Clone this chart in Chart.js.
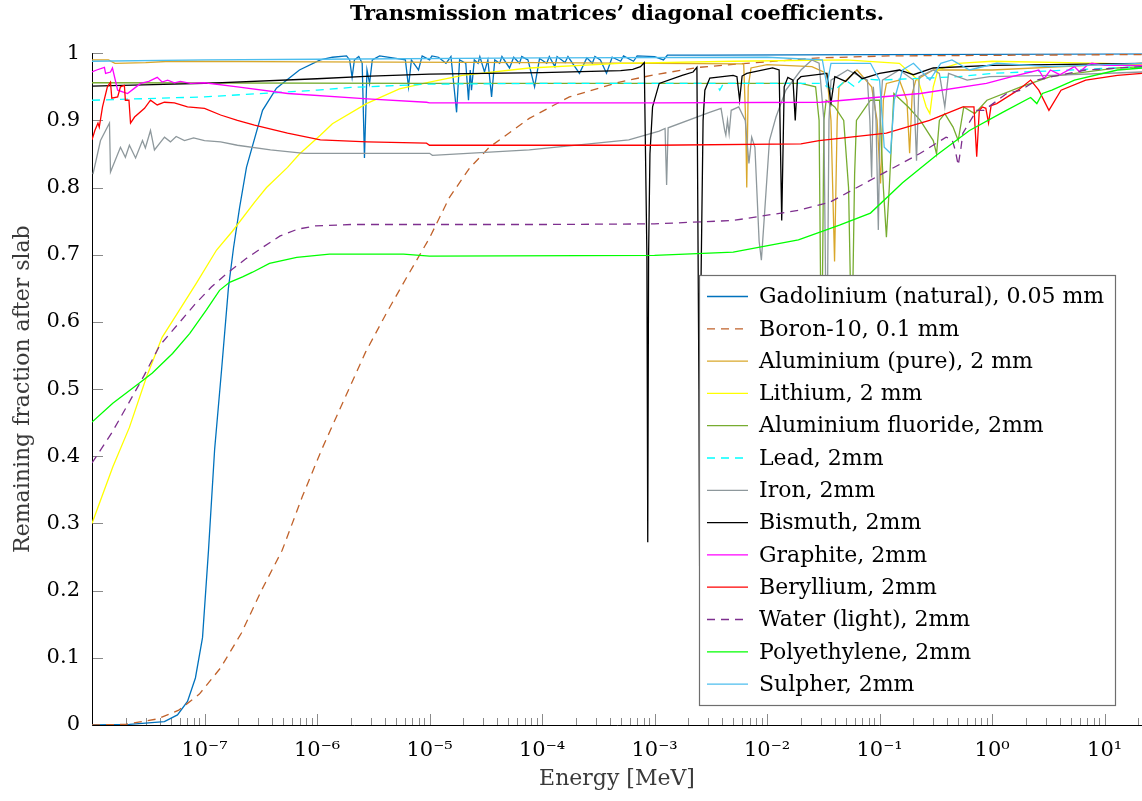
<!DOCTYPE html>
<html>
<head>
<meta charset="utf-8">
<title>Transmission matrices' diagonal coefficients</title>
<script src="https://cdn.jsdelivr.net/npm/chart.js@4.4.1/dist/chart.umd.min.js"></script>
<style>
  html, body { margin: 0; padding: 0; background: #fff; overflow: hidden; }
  #wrap { position: relative; width: 1142px; height: 801px; }
  #chart { display: block; }
</style>
</head>
<body>
<div id="wrap"><canvas id="chart"></canvas></div>
<script>
// Energy [MeV] / remaining fraction pairs
const gadolinium = [
  [1e-8, 0], [2.15e-8, 0.001], [4.4e-8, 0.005], [5.75e-8, 0.015], [7.06e-8, 0.035], [8.3e-8, 0.07],
  [9.6e-8, 0.13], [1.085e-7, 0.26], [1.23e-7, 0.41], [1.42e-7, 0.53], [1.63e-7, 0.65], [1.81e-7, 0.71],
  [2.05e-7, 0.77], [2.36e-7, 0.83], [3.28e-7, 0.915], [4.36e-7, 0.948], [6.98e-7, 0.975], [1.07e-6, 0.99],
  [1.37e-6, 0.994], [1.83e-6, 0.996], [1.95e-6, 0.99], [2.05e-6, 0.964], [2.15e-6, 0.99], [2.35e-6, 0.995],
  [2.52e-6, 0.985], [2.64e-6, 0.844], [2.78e-6, 0.975], [2.93e-6, 0.955], [3.1e-6, 0.99], [3.6e-6, 0.996],
  [6.1e-6, 0.99], [6.5e-6, 0.95], [6.9e-6, 0.99], [7.98e-6, 0.975], [8.6e-6, 0.996], [1e-5, 0.99],
  [1.05e-5, 0.996], [1.2e-5, 0.994], [1.4e-5, 0.985], [1.55e-5, 0.995], [1.74e-5, 0.912], [1.85e-5, 0.99],
  [2.1e-5, 0.985], [2.22e-5, 0.93], [2.3e-5, 0.975], [2.36e-5, 0.945], [2.5e-5, 0.99], [2.7e-5, 0.985],
  [2.8e-5, 0.995], [3.08e-5, 0.972], [3.3e-5, 0.99], [3.56e-5, 0.935], [3.8e-5, 0.99], [4.2e-5, 0.985],
  [4.4e-5, 0.995], [5.14e-5, 0.978], [5.6e-5, 0.994], [6.3e-5, 0.985], [6.6e-5, 0.995], [7.5e-5, 0.99],
  [8.58e-5, 0.95], [9.5e-5, 0.992], [1.1e-4, 0.985], [1.16e-4, 0.995], [1.3e-4, 0.98], [1.36e-4, 0.995],
  [1.6e-4, 0.986], [1.7e-4, 0.995], [2.15e-4, 0.97], [2.5e-4, 0.993], [2.8e-4, 0.985], [2.95e-4, 0.995],
  [3.3e-4, 0.99], [3.74e-4, 0.97], [4.2e-4, 0.994], [5e-4, 0.988], [5.3e-4, 0.996], [6.5e-4, 0.988],
  [7e-4, 0.996], [1e-3, 0.995], [1.2e-3, 0.99], [1.3e-3, 0.997], [3e-3, 0.997], [0.1, 0.998], [21.5, 0.999]
];
const boron10 = [
  [1e-8, 0], [2e-8, 0.001], [3.8e-8, 0.009], [5.9e-8, 0.022], [9e-8, 0.046], [1.39e-7, 0.085],
  [2.13e-7, 0.137], [3.2e-7, 0.2], [4.9e-7, 0.26], [7.4e-7, 0.34], [1.1e-6, 0.41], [1.75e-6, 0.485],
  [2.7e-6, 0.555], [4.2e-6, 0.615], [6.2e-6, 0.665], [1e-5, 0.725], [1.5e-5, 0.785], [2.27e-5, 0.829],
  [3.4e-5, 0.86], [7.7e-5, 0.903], [1.75e-4, 0.935], [4.9e-4, 0.957], [1e-3, 0.968], [2.5e-3, 0.979],
  [6.6e-3, 0.985], [0.029, 0.993], [0.12, 0.996], [21.5, 0.998]
];
const aluminium = [
  [1e-8, 0.99], [1.4e-8, 0.99], [1.6e-8, 0.985], [3e-8, 0.986], [5e-8, 0.988], [1e-6, 0.987],
  [1e-4, 0.986], [1e-3, 0.985], [6.2e-3, 0.984], [6.45e-3, 0.9], [6.6e-3, 0.8], [6.8e-3, 0.95],
  [7.2e-3, 0.978], [1e-2, 0.983], [0.025, 0.98], [0.034, 0.97], [0.037, 0.9], [0.0398, 0.69],
  [0.042, 0.9], [0.0436, 0.95], [0.063, 0.975], [0.085, 0.95], [0.095, 0.9], [0.102, 0.806],
  [0.108, 0.93], [0.115, 0.955], [0.15, 0.96], [0.175, 0.93], [0.185, 0.851], [0.195, 0.94],
  [0.21, 0.96], [0.3, 0.975], [1, 0.975], [10, 0.983], [21.5, 0.985]
];
const lithium = [
  [1e-8, 0.30], [1.53e-8, 0.384], [2.15e-8, 0.443], [3.05e-8, 0.518], [4.2e-8, 0.577], [6e-8, 0.618],
  [8.5e-8, 0.658], [1.28e-7, 0.707], [1.77e-7, 0.735], [2.78e-7, 0.778], [3.56e-7, 0.80], [5.47e-7, 0.83],
  [6.98e-7, 0.85], [1.07e-6, 0.878], [1.37e-6, 0.895], [2.75e-6, 0.925], [5.4e-6, 0.947], [1e-5, 0.957],
  [1.96e-5, 0.967], [7.7e-5, 0.978], [4.9e-4, 0.985], [5e-3, 0.988], [0.05, 0.99], [0.15, 0.985],
  [0.22, 0.96], [0.26, 0.92], [0.28, 0.91], [0.3, 0.95], [0.33, 0.975], [0.5, 0.985], [1, 0.988],
  [10, 0.985], [21.5, 0.983]
];
const aluminiumFluoride = [
  [1e-8, 0.956], [1e-5, 0.955], [1e-3, 0.955], [0.02, 0.955], [0.027, 0.95], [0.029, 0.9],
  [0.0305, 0.5], [0.032, 0.9], [0.0335, 0.93], [0.04, 0.92], [0.048, 0.9], [0.053, 0.8],
  [0.0566, 0.55], [0.06, 0.82], [0.0623, 0.9], [0.083, 0.93], [0.1, 0.93], [0.108, 0.8],
  [0.115, 0.726], [0.122, 0.8], [0.134, 0.94], [0.18, 0.92], [0.23, 0.9], [0.3, 0.87],
  [0.321, 0.85], [0.34, 0.9], [0.38, 0.91], [0.45, 0.89], [0.5, 0.87], [0.56, 0.92],
  [0.7, 0.91], [0.9, 0.93], [1.8, 0.95], [3.3, 0.965], [13, 0.978], [21.5, 0.98]
];
const lead = [
  [1e-8, 0.93], [1e-7, 0.935], [1e-6, 0.945], [2e-6, 0.949], [1e-5, 0.954], [1e-4, 0.955],
  [3.5e-3, 0.955], [3.8e-3, 0.945], [4.1e-3, 0.955], [0.03, 0.955], [0.04, 0.945], [0.05, 0.96],
  [0.06, 0.95], [0.07, 0.962], [0.1, 0.96], [0.5, 0.965], [1, 0.97], [5, 0.975], [21.5, 0.98]
];
const iron = [
  [1.02e-8, 0.82], [1.19e-8, 0.87], [1.43e-8, 0.896], [1.46e-8, 0.823], [1.79e-8, 0.86], [1.98e-8, 0.845],
  [2.15e-8, 0.863], [2.44e-8, 0.844], [2.81e-8, 0.87], [2.98e-8, 0.859], [3.31e-8, 0.885], [3.59e-8, 0.856],
  [4.41e-8, 0.875], [4.98e-8, 0.868], [5.6e-8, 0.876], [6.64e-8, 0.87], [8e-8, 0.874], [1e-7, 0.87],
  [1.39e-7, 0.868], [1.96e-7, 0.863], [3.86e-7, 0.856], [7.7e-7, 0.851], [2.8e-6, 0.851], [1e-5, 0.851],
  [1.06e-5, 0.848], [7.7e-5, 0.856], [5.9e-4, 0.871], [1.1e-3, 0.884], [1.24e-3, 0.888], [1.28e-3, 0.804],
  [1.32e-3, 0.889], [3.08e-3, 0.912], [3.9e-3, 0.918], [4.2e-3, 0.885], [4.3e-3, 0.878], [4.45e-3, 0.9],
  [4.6e-3, 0.88], [4.8e-3, 0.915], [5.6e-3, 0.92], [6.4e-3, 0.9], [6.9e-3, 0.836], [7.3e-3, 0.875],
  [7.8e-3, 0.86], [8.5e-3, 0.72], [8.9e-3, 0.692], [9.4e-3, 0.75], [1.05e-2, 0.87], [1.2e-2, 0.905],
  [1.47e-2, 0.945], [2.0e-2, 0.975], [2.5e-2, 0.99], [2.9e-2, 0.985], [3.2e-2, 0.9], [3.39e-2, 0.5],
  [3.55e-2, 0.9], [3.7e-2, 0.96], [5.2e-2, 0.975], [7.8e-2, 0.96], [8.2e-2, 0.9], [8.5e-2, 0.815],
  [8.8e-2, 0.95], [9.3e-2, 0.9], [9.75e-2, 0.737], [0.101, 0.9], [0.106, 0.96], [0.15, 0.975],
  [0.2, 0.96], [0.213, 0.84], [0.225, 0.965], [0.3, 0.975], [0.34, 0.97], [0.38, 0.92], [0.41, 0.97],
  [0.6, 0.96], [0.95, 0.965], [3.4, 0.967], [21.5, 0.972]
];
const bismuth = [
  [1e-8, 0.951], [1e-7, 0.955], [1e-6, 0.962], [3e-6, 0.966], [1e-5, 0.969], [1e-4, 0.971],
  [5e-4, 0.974], [6.4e-4, 0.976], [7.5e-4, 0.98], [8.1e-4, 0.986], [8.55e-4, 0.7], [8.7e-4, 0.272],
  [8.85e-4, 0.7], [9.1e-4, 0.85], [9.6e-4, 0.92], [1.1e-3, 0.955], [1.76e-3, 0.967], [2.2e-3, 0.972],
  [2.38e-3, 0.979], [2.48e-3, 0.5], [2.52e-3, 0.2], [2.56e-3, 0.6], [2.7e-3, 0.9], [2.8e-3, 0.945],
  [3.1e-3, 0.963], [5e-3, 0.967], [5.4e-3, 0.965], [5.7e-3, 0.93], [6e-3, 0.966], [6.6e-3, 0.97],
  [1.12e-2, 0.978], [1.28e-2, 0.975], [1.35e-2, 0.751], [1.42e-2, 0.95], [1.53e-2, 0.964], [1.7e-2, 0.96],
  [1.78e-2, 0.9], [1.86e-2, 0.96], [2.0e-2, 0.965], [3.4e-2, 0.97], [3.7e-2, 0.926], [4.0e-2, 0.965],
  [5e-2, 0.958], [6e-2, 0.972], [7e-2, 0.962], [0.1, 0.97], [0.15, 0.975], [0.2, 0.968], [0.3, 0.978],
  [1, 0.982], [21.5, 0.985]
];
const graphite = [
  [1e-8, 0.972], [1.1e-8, 0.975], [1.29e-8, 0.979], [1.32e-8, 0.97], [1.46e-8, 0.972], [1.52e-8, 0.978],
  [1.69e-8, 0.945], [2.07e-8, 0.94], [2.39e-8, 0.948], [2.7e-8, 0.955], [3.2e-8, 0.958], [3.8e-8, 0.964],
  [4.2e-8, 0.957], [4.7e-8, 0.96], [5.4e-8, 0.956], [6.1e-8, 0.958], [7.5e-8, 0.955], [1e-7, 0.956],
  [1.96e-7, 0.95], [5.5e-7, 0.94], [2.8e-6, 0.932], [9.4e-6, 0.927], [1e-5, 0.926], [1e-3, 0.926],
  [0.03, 0.927], [0.23, 0.94], [0.89, 0.955], [1.5, 0.965], [2.6, 0.975], [2.9, 0.962], [3.3, 0.975],
  [4, 0.968], [5.4, 0.98], [6, 0.972], [7, 0.982], [7.7, 0.985], [10, 0.982], [21.5, 0.982]
];
const beryllium = [
  [1e-8, 0.871], [1.06e-8, 0.885], [1.13e-8, 0.896], [1.16e-8, 0.89], [1.24e-8, 0.92], [1.37e-8, 0.95],
  [1.46e-8, 0.957], [1.5e-8, 0.933], [1.69e-8, 0.935], [1.79e-8, 0.95], [1.94e-8, 0.952], [1.98e-8, 0.93],
  [2.13e-8, 0.93], [2.2e-8, 0.896], [2.39e-8, 0.905], [2.93e-8, 0.918], [3.31e-8, 0.93], [3.8e-8, 0.923],
  [4.4e-8, 0.927], [5.4e-8, 0.926], [7.06e-8, 0.92], [1e-7, 0.918], [1.39e-7, 0.908], [1.96e-7, 0.9],
  [2.78e-7, 0.893], [5.47e-7, 0.881], [1.07e-6, 0.871], [2.8e-6, 0.868], [9.4e-6, 0.866], [1e-5, 0.863],
  [1e-3, 0.863], [0.02, 0.865], [0.029, 0.87], [0.115, 0.881], [0.278, 0.9], [0.55, 0.92], [0.69, 0.92],
  [0.73, 0.846], [0.77, 0.915], [0.82, 0.92], [0.88, 0.918], [0.93, 0.896], [0.98, 0.922], [1.1, 0.925],
  [1.7, 0.945], [2.2, 0.96], [2.6, 0.945], [3.2, 0.915], [4.1, 0.945], [6.8, 0.96], [13, 0.967], [21.5, 0.97]
];
const water = [
  [1e-8, 0.39], [1.5e-8, 0.435], [2.05e-8, 0.475], [2.9e-8, 0.52], [4e-8, 0.565], [5.7e-8, 0.595],
  [8.1e-8, 0.625], [1.15e-7, 0.652], [1.63e-7, 0.674], [2.33e-7, 0.694], [3.28e-7, 0.711], [4.7e-7, 0.728],
  [6.7e-7, 0.738], [9.7e-7, 0.743], [2e-6, 0.745], [1e-4, 0.745], [1e-3, 0.746], [5e-3, 0.751],
  [1.9e-2, 0.766], [3.6e-2, 0.778], [8.3e-2, 0.811], [0.23, 0.851], [0.39, 0.875], [0.44, 0.872],
  [0.47, 0.856], [0.5, 0.833], [0.53, 0.86], [0.55, 0.881], [0.73, 0.915], [0.85, 0.915], [0.93, 0.92],
  [1.35, 0.94], [1.8, 0.945], [2.5, 0.96], [3.4, 0.965], [6.8, 0.975], [21.5, 0.98]
];
const polyethylene = [
  [1e-8, 0.451], [1.53e-8, 0.479], [2.64e-8, 0.509], [3.44e-8, 0.524], [5.2e-8, 0.553], [7.4e-8, 0.583],
  [1.04e-7, 0.618], [1.36e-7, 0.647], [1.67e-7, 0.659], [2.18e-7, 0.667], [2.67e-7, 0.674], [3.78e-7, 0.687],
  [6.6e-7, 0.696], [1.29e-6, 0.701], [5.87e-6, 0.701], [1e-5, 0.698], [1e-3, 0.699], [5e-3, 0.704],
  [1.9e-2, 0.722], [4.4e-2, 0.744], [8.3e-2, 0.762], [0.16, 0.807], [0.32, 0.848], [0.63, 0.885],
  [1.24, 0.912], [2.2, 0.934], [2.5, 0.925], [2.8, 0.94], [3.4, 0.945], [5.4, 0.96], [13, 0.975], [21.5, 0.978]
];
const sulpher = [
  [1e-8, 0.988], [1e-7, 0.99], [1e-6, 0.991], [1e-4, 0.993], [1e-2, 0.994], [0.031, 0.99],
  [0.034, 0.952], [0.037, 0.985], [0.083, 0.985], [0.1, 0.96], [0.11, 0.86], [0.125, 0.851],
  [0.135, 0.93], [0.16, 0.975], [0.2, 0.985], [0.28, 0.96], [0.35, 0.985], [0.44, 0.99],
  [0.63, 0.975], [1.1, 0.985], [3.2, 0.98], [21.5, 0.985]
];

const seriesLabels = [
  'Gadolinium (natural), 0.05 mm', 'Boron-10, 0.1 mm', 'Aluminium (pure), 2 mm', 'Lithium, 2 mm',
  'Aluminium fluoride, 2mm', 'Lead, 2mm', 'Iron, 2mm', 'Bismuth, 2mm', 'Graphite, 2mm',
  'Beryllium, 2mm', 'Water (light), 2mm', 'Polyethylene, 2mm', 'Sulpher, 2mm'
];
const seriesData = [
  gadolinium, boron10, aluminium, lithium, aluminiumFluoride, lead, iron,
  bismuth, graphite, beryllium, water, polyethylene, sulpher
];

// styling
const seriesColors = [
  '#0072BD', '#C0622B', '#D9A72A', '#FFFF00', '#77AC30', '#00FFFF', '#8E989C',
  '#000000', '#FF00FF', '#FF0000', '#7E2F8E', '#00FF00', '#4DBEEE'
];
const dashedSeries = [false, true, false, false, false, true, false, false, false, false, true, false, false];
const SERIF = "'DejaVu Serif', 'Liberation Serif', serif";
const SUP = {'-': '⁻', '0': '⁰', '1': '¹', '2': '²', '3': '³', '4': '⁴', '5': '⁵', '6': '⁶', '7': '⁷', '8': '⁸', '9': '⁹'};

function isPow10(v) {
  const lg = Math.log10(v);
  return Math.abs(lg - Math.round(lg)) < 1e-6;
}

// axes drawn pgfplots-style: ticks pointing inward
const axisFrame = {
  id: 'axisFrame',
  beforeDatasetsDraw(chart) {
    const {ctx, chartArea: a, scales: {x, y}} = chart;
    ctx.save();
    ctx.lineWidth = 1;
    ctx.strokeStyle = '#8a8a8a';
    ctx.beginPath();
    x.ticks.forEach(t => {
      if (t.value <= x.min * 1.001 || t.value >= x.max) return;
      const e = Math.floor(Math.log10(t.value) + 1e-9);
      const m = t.value / Math.pow(10, e);
      if (Math.abs(m - Math.round(m)) > 1e-6) return;
      const px = Math.round(x.getPixelForValue(t.value)) + 0.5;
      const len = isPow10(t.value) ? 11 : 7;
      ctx.moveTo(px, a.bottom);
      ctx.lineTo(px, a.bottom - len);
    });
    y.ticks.forEach(t => {
      const py = Math.round(y.getPixelForValue(t.value)) + 0.5;
      ctx.moveTo(a.left, py);
      ctx.lineTo(a.left + 11, py);
    });
    ctx.stroke();
    ctx.strokeStyle = '#000';
    ctx.beginPath();
    ctx.moveTo(a.left + 0.5, a.top);
    ctx.lineTo(a.left + 0.5, a.bottom + 0.5);
    ctx.lineTo(a.right, a.bottom + 0.5);
    ctx.stroke();
    ctx.restore();
  }
};

// boxed legend placed inside the plot, lower right
const boxLegend = {
  id: 'boxLegend',
  afterDraw(chart) {
    const {ctx} = chart;
    const box = {x: 699.5, y: 275.5, w: 416, h: 430};
    const rowH = 32.3, firstRow = 296.5;
    ctx.save();
    ctx.fillStyle = '#fff';
    ctx.fillRect(box.x, box.y, box.w, box.h);
    ctx.strokeStyle = '#6e6e6e';
    ctx.lineWidth = 1.2;
    ctx.strokeRect(box.x, box.y, box.w, box.h);
    ctx.font = '22px ' + SERIF;
    ctx.textBaseline = 'middle';
    ctx.textAlign = 'left';
    chart.data.datasets.forEach((ds, i) => {
      const yy = firstRow + i * rowH;
      ctx.strokeStyle = ds.borderColor;
      ctx.lineWidth = 1.3;
      ctx.setLineDash(ds.borderDash || []);
      ctx.beginPath();
      ctx.moveTo(707, yy);
      ctx.lineTo(748, yy);
      ctx.stroke();
      ctx.setLineDash([]);
      ctx.fillStyle = '#000';
      ctx.fillText(ds.label, 759, yy + 1);
    });
    ctx.restore();
  }
};

new Chart(document.getElementById('chart'), {
  type: 'line',
  data: {
    datasets: seriesData.map((pts, i) => ({
      label: seriesLabels[i],
      data: pts.map(([x, y]) => ({x, y})),
      borderColor: seriesColors[i],
      borderWidth: 1.3,
      borderDash: dashedSeries[i] ? [8, 6] : [],
      pointRadius: 0,
      fill: false,
      tension: 0,
      order: seriesData.length - i
    }))
  },
  options: {
    responsive: true,
    maintainAspectRatio: false,
    animation: false,
    devicePixelRatio: 1,
    layout: { padding: 0 },
    events: [],
    plugins: {
      legend: { display: false },
      tooltip: { enabled: false },
      title: {
        display: true,
        fullSize: false,
        text: 'Transmission matrices’ diagonal coefficients.',
        color: '#000',
        font: { family: SERIF, size: 21, weight: 'bold' },
        padding: { top: 2, bottom: 26 }
      }
    },
    scales: {
      x: {
        type: 'logarithmic',
        min: 1e-8,
        max: 21.5,
        border: { display: false },
        grid: { display: false, drawTicks: false },
        ticks: {
          autoSkip: false,
          maxRotation: 0,
          minRotation: 0,
          padding: 13,
          color: '#000',
          font: { family: SERIF, size: 21 },
          callback: (v) => {
            if (v <= 1.05e-8 || !isPow10(v)) return '';
            const e = String(Math.round(Math.log10(v)));
            return '10' + e.split('').map(c => SUP[c]).join('');
          }
        },
        title: {
          display: true,
          text: 'Energy [MeV]',
          color: '#3a3a3a',
          font: { family: SERIF, size: 22 },
          padding: { top: 0, bottom: 9 }
        },
        afterFit: (s) => { s.height = 76; s.paddingLeft = 0; s.paddingRight = 0; }
      },
      y: {
        min: 0,
        max: 1,
        border: { display: false },
        grid: { display: false, drawTicks: false },
        ticks: {
          stepSize: 0.1,
          padding: 12,
          color: '#000',
          font: { family: SERIF, size: 21 },
          callback: (v) => String(+v.toFixed(1))
        },
        title: {
          display: true,
          text: 'Remaining fraction after slab',
          color: '#3a3a3a',
          font: { family: SERIF, size: 22 },
          padding: { top: 10, bottom: 0 }
        },
        afterFit: (s) => { s.width = 92; }
      }
    }
  },
  plugins: [axisFrame, boxLegend]
});
</script>
</body>
</html>
